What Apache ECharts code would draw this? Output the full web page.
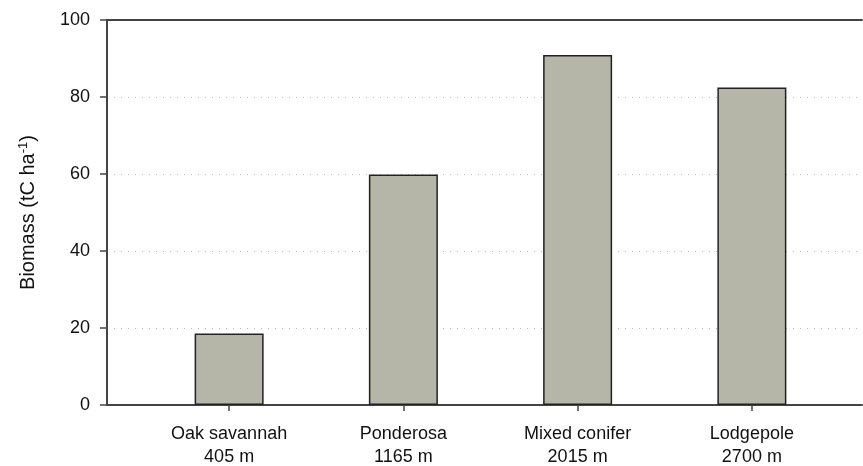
<!DOCTYPE html>
<html>
<head>
<meta charset="utf-8">
<script src="https://cdn.jsdelivr.net/npm/echarts@6/dist/echarts.min.js"></script>
<style>html,body{margin:0;padding:0;background:#fff}#c{width:863px;height:466px}</style>
</head>
<body>
<div id="c"></div>
<script>
const categories = ['Oak savannah', 'Ponderosa', 'Mixed conifer', 'Lodgepole'];
const elevations = ['405 m', '1165 m', '2015 m', '2700 m'];
const biomass = [18.6, 59.9, 90.9, 82.5];
const yTicks = [0, 20, 40, 60, 80, 100];

const chart = echarts.init(document.getElementById('c'), null, {renderer: 'canvas'});
const font = 'Liberation Sans';
const lineCol = '#444';
chart.setOption({
  animation: false,
  backgroundColor: '#fff',
  textStyle: {fontFamily: font},
  grid: [
    {left: 142, right: 24, top: 20, bottom: 61, containLabel: false, outerBoundsMode: 'none'},
    {left: 107, right: 1, top: 20, bottom: 61, containLabel: false, outerBoundsMode: 'none'}
  ],
  xAxis: [
    {
      type: 'category', gridIndex: 0,
      data: categories.map((c, i) => c + '\n' + elevations[i]),
      axisLine: {show: false},
      axisTick: {show: true, alignWithLabel: true, length: 6, lineStyle: {color: lineCol, width: 1.5}},
      axisLabel: {color: '#111', fontSize: 18, fontFamily: font, lineHeight: 23, margin: 18},
      splitLine: {show: false}
    },
    {
      type: 'value', gridIndex: 1, position: 'bottom', min: 0, max: 1,
      axisLine: {show: true, lineStyle: {color: lineCol, width: 2}},
      axisTick: {show: false}, axisLabel: {show: false}, splitLine: {show: false}
    },
    {
      type: 'value', gridIndex: 1, position: 'top', min: 0, max: 1,
      axisLine: {show: true, lineStyle: {color: lineCol, width: 2}},
      axisTick: {show: false}, axisLabel: {show: false}, splitLine: {show: false}
    }
  ],
  yAxis: [
    {
      type: 'value', gridIndex: 0, min: 0, max: 100, interval: 20,
      axisLine: {show: false}, axisTick: {show: false}, axisLabel: {show: false}, splitLine: {show: false}
    },
    {
      type: 'value', gridIndex: 1, min: yTicks[0], max: yTicks[yTicks.length - 1], interval: 20,
      axisLine: {show: true, lineStyle: {color: lineCol, width: 2}},
      axisTick: {show: true, length: 7, lineStyle: {color: lineCol, width: 1.5}},
      axisLabel: {color: '#111', fontSize: 18, fontFamily: font, margin: 17,
        formatter: v => String(v)},
      splitLine: {show: true, interval: function(i, v){ return v > 0 && v < 100; },
        lineStyle: {color: '#bbb', type: [1, 6], width: 1}},
      name: '{a|Biomass (tC ha}{s|-1}{a|)}',
      nameLocation: 'middle', nameRotate: 90, nameGap: 67,
      nameTextStyle: {
        rich: {
          a: {fontSize: 20, fontFamily: font, color: '#111'},
          s: {fontSize: 13, fontFamily: font, color: '#111', padding: [0, 0, 10, 0]}
        }
      }
    }
  ],
  series: [{
    type: 'bar', xAxisIndex: 0, yAxisIndex: 0,
    data: biomass, barWidth: 69,
    itemStyle: {color: '#b5b5a8', borderColor: '#222', borderWidth: 1.5},
    z: 3
  }]
});
</script>
</body>
</html>
